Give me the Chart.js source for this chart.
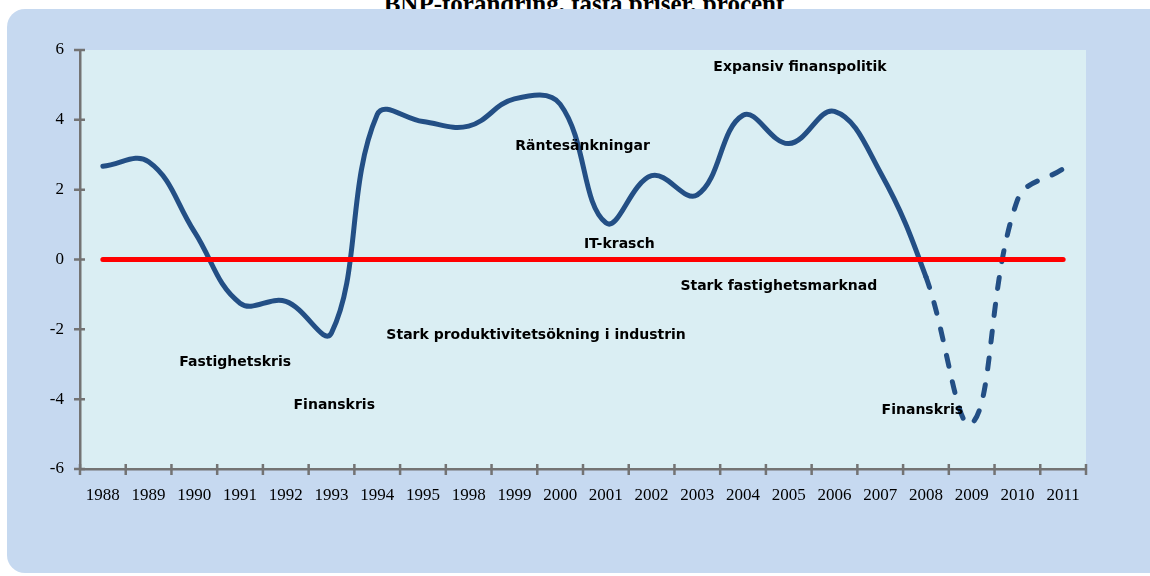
<!DOCTYPE html>
<html>
<head>
<meta charset="utf-8">
<script src="https://cdn.jsdelivr.net/npm/chart.js@4"></script>
<style>
  html, body { margin: 0; padding: 0; background: #fff; width: 1150px; height: 576px; overflow: hidden; }
  #title {
    position: absolute; left: 284px; width: 600px; top: -10px;
    text-align: center; line-height: 20px;
    font: bold 25px "Liberation Serif", "Times New Roman", serif; color: #000;
    white-space: nowrap; z-index: 0;
  }
  #panel {
    position: absolute; left: 7px; top: 9px; width: 1170px; height: 564px;
    background: #c6d9f0; border-radius: 18px; z-index: 1;
  }
  #chart { position: absolute; left: 0; top: 0; z-index: 2; }
</style>
</head>
<body>
<div id="title">BNP-förändring, fasta priser, procent</div>
<div id="panel"></div>
<canvas id="chart" width="1150" height="576"></canvas>
<script>
const years = ['1988', '1989', '1990', '1991', '1992', '1993', '1994', '1995', '1998', '1999', '2000',
    '2001', '2002', '2003', '2004', '2005', '2006', '2007', '2008', '2009', '2010', '2011']
const bnpChange = [2.67, 2.8, 0.8, -1.25, -1.2, -2.1, 4.15, 3.95, 3.82, 4.6, 4.45,
    1.05, 2.4, 1.85, 4.13, 3.32, 4.24, 2.5, -0.5, -4.7, 1.7, 2.6]
const zeroLine = [0, 0, 0, 0, 0, 0, 0, 0, 0, 0, 0, 0, 0, 0, 0, 0, 0, 0, 0, 0, 0, 0]
const yTicks = [-6, -4, -2, 0, 2, 4, 6]
const noteLabels = ['Expansiv finanspolitik', 'Räntesänkningar', 'IT-krasch', 'Stark fastighetsmarknad',
    'Stark produktivitetsökning i industrin', 'Fastighetskris', 'Finanskris', 'Finanskris']

// first index of the dashed (prognos) part
const dashFrom = 18

const axisGrey = '#737373'

const plotBg = {
    id: 'plotBg',
    beforeDraw(chart) {
        const a = chart.chartArea
        const c = chart.ctx
        c.save()
        c.fillStyle = '#daeef3'
        c.fillRect(a.left, a.top, a.right - a.left, a.bottom - a.top)
        c.restore()
    }
}

// excel style ticks that cross the axis line
const crossTicks = {
    id: 'crossTicks',
    afterDraw(chart) {
        const x = chart.scales.x
        const y = chart.scales.y
        const c = chart.ctx
        c.save()
        c.strokeStyle = axisGrey
        c.lineWidth = 2.5
        c.beginPath()
        yTicks.forEach(function(v) {
            const py = y.getPixelForValue(v)
            c.moveTo(x.left - 6, py)
            c.lineTo(x.left + 5, py)
        })
        for (let i = 0; i <= years.length; i++) {
            const px = x.getPixelForValue(i - 0.5)
            c.moveTo(px, y.bottom - 5)
            c.lineTo(px, y.bottom + 6)
        }
        c.stroke()
        c.restore()
    }
}

// label positions: [category index, value]
const notePos = [[13.35, 5.49], [9.02, 3.23], [10.52, 0.42], [12.63, -0.76],
    [6.2, -2.16], [1.67, -2.94], [4.17, -4.17], [17.03, -4.33]]

const notes = {
    id: 'notes',
    afterDatasetsDraw(chart) {
        const x = chart.scales.x
        const y = chart.scales.y
        const c = chart.ctx
        c.save()
        c.fillStyle = '#000'
        c.font = 'bold 14px "DejaVu Sans", Verdana, sans-serif'
        c.textBaseline = 'middle'
        c.textAlign = 'left'
        noteLabels.forEach(function(t, i) {
            c.fillText(t, x.getPixelForValue(notePos[i][0]), y.getPixelForValue(notePos[i][1]))
        })
        c.restore()
    }
}

const tickFont = { family: '"Liberation Serif", "Times New Roman", serif', size: 17 }

new Chart(document.getElementById('chart').getContext('2d'), {
    type: 'line',
    data: {
        labels: years,
        datasets: [{
            label: 'Noll',
            data: zeroLine,
            borderColor: '#ff0000',
            borderWidth: 5,
            borderCapStyle: 'round',
            pointRadius: 0,
            tension: 0
        }, {
            label: 'BNP',
            data: bnpChange,
            borderColor: '#234f85',
            borderWidth: 5,
            borderCapStyle: 'round',
            borderJoinStyle: 'round',
            pointRadius: 0,
            tension: 0.4,
            segment: {
                borderDash: function(ctx) {
                    return ctx.p0DataIndex >= dashFrom ? [11, 16] : undefined
                }
            }
        }]
    },
    options: {
        responsive: false,
        animation: false,
        devicePixelRatio: 1,
        layout: { padding: { top: 50, right: 64, bottom: 0, left: 0 } },
        plugins: {
            legend: { display: false },
            tooltip: { enabled: false }
        },
        scales: {
            x: {
                offset: true,
                grid: { display: false, drawTicks: false },
                border: { display: true, color: axisGrey, width: 2.5 },
                ticks: { color: '#000', font: tickFont, padding: 16, maxRotation: 0, autoSkip: false },
                afterFit(scale) { scale.height = 107 }
            },
            y: {
                min: -6,
                max: 6,
                grid: { display: false, drawTicks: false },
                border: { display: true, color: axisGrey, width: 2.5 },
                ticks: { color: '#000', font: tickFont, padding: 16 },
                afterBuildTicks(scale) { scale.ticks = yTicks.map(function(v) { return { value: v } }) },
                afterFit(scale) { scale.width = 80 }
            }
        }
    },
    plugins: [plotBg, crossTicks, notes]
})
</script>
</body>
</html>
